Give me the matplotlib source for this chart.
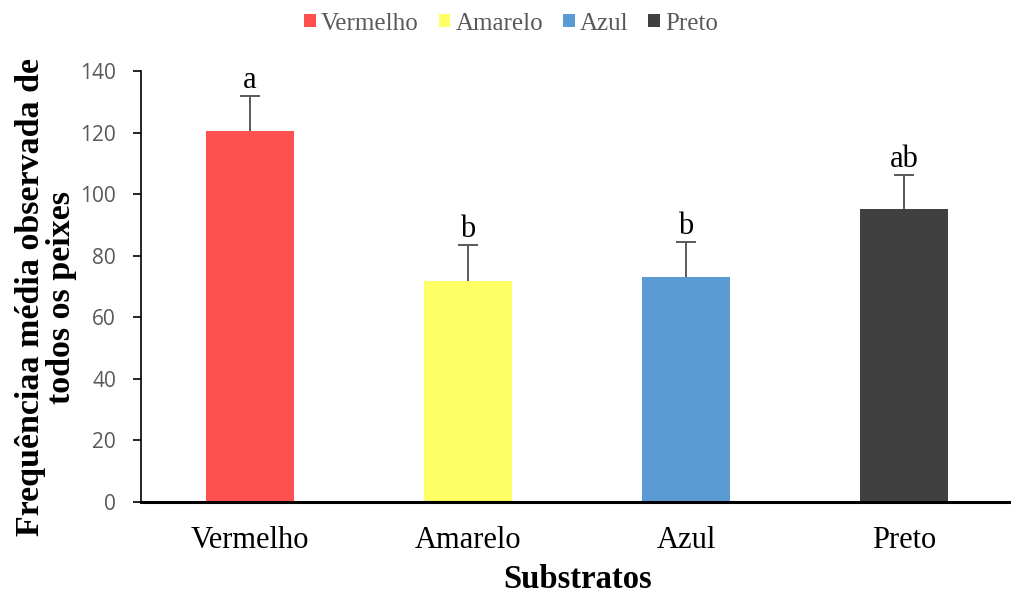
import matplotlib.pyplot as plt
from matplotlib.patches import Patch

substratos = ["Vermelho", "Amarelo", "Azul", "Preto"]
medias = [120.5, 71.8, 73.1, 95.2]
erros = [11.4, 11.7, 11.3, 11.0]
letras = ["a", "b", "b", "ab"]
cores = ["#FF5050", "#FFFF66", "#5B9BD5", "#404040"]

serif = "Liberation Serif"
cinza = "#595959"

fig = plt.figure(figsize=(10.11, 5.99), dpi=100)
ax = fig.add_axes([141 / 1011, 1 - 502 / 599, 872 / 1011, 431 / 599])

x = range(len(substratos))
ax.bar(x, medias, width=0.405, color=cores, zorder=2)
_, caps, _ = ax.errorbar(x, medias, yerr=[[0] * 4, erros], fmt="none",
                         ecolor=cinza, elinewidth=1.4, capsize=7.5,
                         capthick=1.4, zorder=3)
# only the upper half of the error bar is shown
caps[0].set_visible(False)

for i, (m, e, l) in enumerate(zip(medias, erros, letras)):
    ax.text(i, m + e + 0.3, l, ha="center", va="bottom",
            fontsize=22, family=serif, color="black")

ax.set_xlim(-0.5, 3.5)
ax.set_ylim(0, 140)
ax.set_yticks(range(0, 141, 20))
ax.set_xticks(list(x))
ax.set_xticklabels(substratos, family=serif, fontsize=22)
ax.tick_params(axis="x", length=0, pad=17)
ax.tick_params(axis="y", length=6, width=1.2, color="black",
               labelsize=15, labelcolor=cinza, pad=12)
for t in ax.get_yticklabels():
    t.set_family("Open Sans")

for s in ["top", "right"]:
    ax.spines[s].set_visible(False)
ax.spines["left"].set_linewidth(1.2)
ax.spines["bottom"].set_linewidth(2.2)

fig.text(578 / 1011, 1 - 580 / 599, "Substratos", family=serif,
         fontsize=23.5, fontweight="bold", ha="center", va="center")
fig.text(46 / 1011, 1 - 297 / 599,
         "Frequênciaa média observada de\ntodos os peixes", family=serif,
         fontsize=24.5, fontweight="bold", ha="center", va="center",
         rotation=90, linespacing=1.0)

handles = [Patch(facecolor=c, edgecolor="none") for c in cores]
fig.legend(handles, substratos, loc="upper center", bbox_to_anchor=(0.5054, 1.0),
           ncol=4, frameon=False, prop={"family": serif, "size": 18},
           labelcolor=cinza, handlelength=0.47, handleheight=0.47,
           handletextpad=0.2, columnspacing=0.8, borderaxespad=0.1)

fig.savefig("out.png", dpi=100)
